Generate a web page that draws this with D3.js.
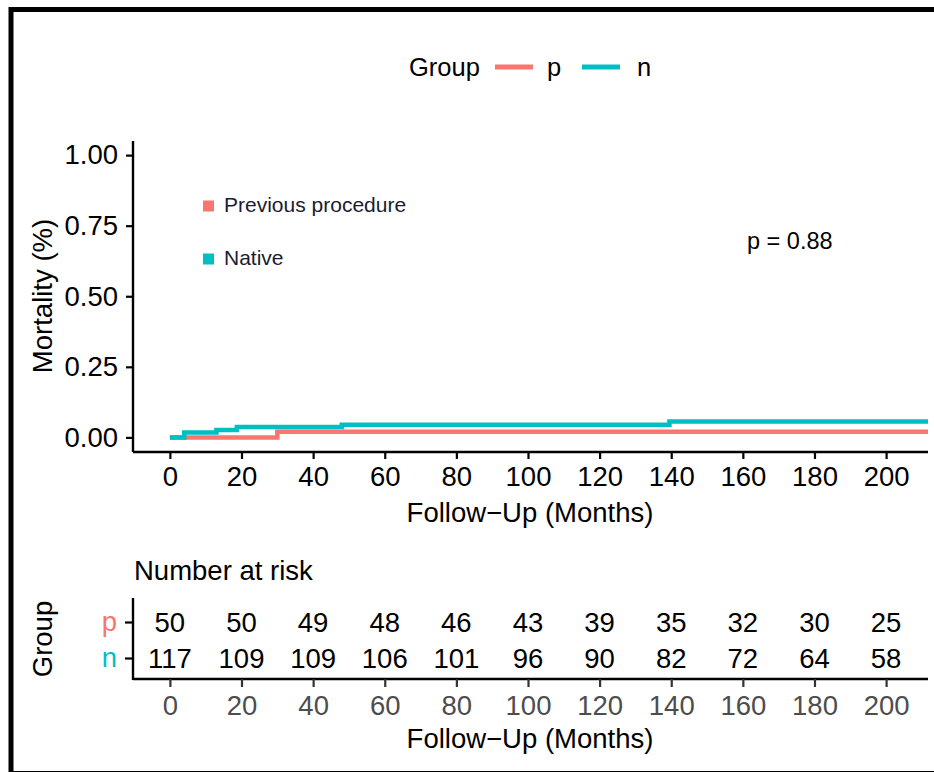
<!DOCTYPE html>
<html>
<head>
<meta charset="utf-8">
<script src="https://cdn.jsdelivr.net/npm/d3@7"></script>
<style>
  html, body { margin: 0; padding: 0; background: #fff; }
  svg { display: block; font-family: "Liberation Sans", Arial, Helvetica, sans-serif; }
</style>
</head>
<body>
<svg id="chart" width="934" height="772"></svg>
<script>
// Kaplan–Meier style cumulative mortality by group
const groups = ["p", "n"];
const groupNames = ["Previous procedure", "Native"];
const groupColors = ["#F8766D", "#00BFC4"];

// step curves: time (months) and cumulative mortality after each step
const timesP = [0, 30, 211.7];
const mortP  = [0, 0.02, 0.02];
const timesN = [0, 4, 13, 18.7, 48, 139.5, 211.7];
const mortN  = [0, 0.017, 0.026, 0.037, 0.045, 0.056, 0.056];

const xTicks = [0, 20, 40, 60, 80, 100, 120, 140, 160, 180, 200];
const yTicks = [0, 0.25, 0.5, 0.75, 1.0];

// number at risk at each x tick
const riskP = [50, 50, 49, 48, 46, 43, 39, 35, 32, 30, 25];
const riskN = [117, 109, 109, 106, 101, 96, 90, 82, 72, 64, 58];

const pValueLabel = "p = 0.88";

const FS = 27.5;          // axis text / titles
const FONT = "Liberation Sans, Arial, sans-serif";

const svg = d3.select("#chart");

// outer frame
svg.append("rect")
  .attr("x", 11).attr("y", 9.5)
  .attr("width", 1000).attr("height", 764)
  .attr("fill", "none").attr("stroke", "#000").attr("stroke-width", 5);

const x = d3.scaleLinear().domain([-10.3, 211.7]).range([133, 928]);
const y = d3.scaleLinear().domain([-0.05, 1.05]).range([451.5, 141]);

// ---- top legend ----
const leg = svg.append("g").attr("font-size", 25.5).attr("fill", "#000");
leg.append("text").attr("x", 409).attr("y", 76).text("Group");
[[495, "p", 547], [582, "n", 637]].forEach((d, i) => {
  leg.append("line").attr("x1", d[0]).attr("x2", d[0] + 38)
    .attr("y1", 67).attr("y2", 67)
    .attr("stroke", groupColors[i]).attr("stroke-width", 5);
  leg.append("text").attr("x", d[2]).attr("y", 76).text(d[1]);
});

// ---- main plot ----
const main = svg.append("g");

const stepLine = d3.line().x(d => x(d[0])).y(d => y(d[1])).curve(d3.curveStepAfter);

main.append("path")
  .datum(timesP.map((t, i) => [t, mortP[i]]))
  .attr("d", stepLine).attr("fill", "none")
  .attr("stroke", groupColors[0]).attr("stroke-width", 4.5);
main.append("path")
  .datum(timesN.map((t, i) => [t, mortN[i]]))
  .attr("d", stepLine).attr("fill", "none")
  .attr("stroke", groupColors[1]).attr("stroke-width", 4.5);

// axes
const yAxis = main.append("g").attr("transform", "translate(133,0)")
  .call(d3.axisLeft(y).tickValues(yTicks).tickFormat(d3.format(".2f")).tickSize(7).tickPadding(8));
const xAxis = main.append("g").attr("transform", "translate(0,452)")
  .call(d3.axisBottom(x).tickValues(xTicks).tickSize(7).tickPadding(7));
[yAxis, xAxis].forEach(a => {
  a.select(".domain").attr("stroke", "#000").attr("stroke-width", 2.4);
  a.selectAll(".tick line").attr("stroke", "#000").attr("stroke-width", 2.2);
  a.selectAll(".tick text").attr("fill", "#000").attr("font-size", FS)
    .attr("font-family", FONT);
});
yAxis.select(".domain").attr("d", "M0,141V452");
xAxis.select(".domain").attr("d", "M133,0H928");

main.append("text").attr("x", 530).attr("y", 522).attr("text-anchor", "middle")
  .attr("font-size", FS).text("Follow\u2212Up (Months)");
main.append("text").attr("transform", "translate(52,296) rotate(-90)")
  .attr("text-anchor", "middle").attr("font-size", FS).text("Mortality (%)");

// in-plot annotations
groupNames.forEach((name, i) => {
  const yy = [206, 259][i];
  main.append("rect").attr("x", 203).attr("y", yy - 5.5).attr("width", 11).attr("height", 11)
    .attr("fill", groupColors[i]);
  main.append("text").attr("x", 224).attr("y", yy + 5.5).attr("font-size", 21)
    .attr("fill", "#1b1b30").text(name);
});
main.append("text").attr("x", 747).attr("y", 249).attr("font-size", 23.5)
  .attr("fill", "#000").text(pValueLabel);

// ---- risk table ----
const tab = svg.append("g");
tab.append("text").attr("x", 134).attr("y", 580).attr("font-size", FS).text("Number at risk");

const rowY = d3.scalePoint().domain(groups).range([622, 658]);

const tY = tab.append("g").attr("transform", "translate(133,0)")
  .call(d3.axisLeft(rowY).tickSize(8).tickPadding(8));
tY.select(".domain").attr("d", "M0,598V680").attr("stroke", "#000").attr("stroke-width", 2.4);
tY.selectAll(".tick line").attr("stroke", "#000").attr("stroke-width", 2.2);
tY.selectAll(".tick text").attr("font-size", FS)
  .attr("font-family", FONT)
  .attr("fill", (d, i) => groupColors[i]);

const tX = tab.append("g").attr("transform", "translate(0,679)")
  .call(d3.axisBottom(x).tickValues(xTicks).tickSize(8).tickPadding(8));
tX.select(".domain").attr("d", "M133,0H928").attr("stroke", "#000").attr("stroke-width", 2.4);
tX.selectAll(".tick line").attr("stroke", "#333").attr("stroke-width", 2.2);
tX.selectAll(".tick text").attr("font-size", FS).attr("fill", "#4d4d4d")
  .attr("font-family", FONT);

[riskP, riskN].forEach((row, gi) => {
  tab.append("g").selectAll("text").data(row).join("text")
    .attr("x", (d, i) => x(xTicks[i]))
    .attr("y", rowY(groups[gi]) + 10)
    .attr("text-anchor", "middle").attr("font-size", FS).attr("fill", "#000")
    .text(d => d);
});

tab.append("text").attr("x", 530).attr("y", 748).attr("text-anchor", "middle")
  .attr("font-size", FS).text("Follow\u2212Up (Months)");
tab.append("text").attr("transform", "translate(52,639) rotate(-90)")
  .attr("text-anchor", "middle").attr("font-size", FS).text("Group");
</script>
</body>
</html>
